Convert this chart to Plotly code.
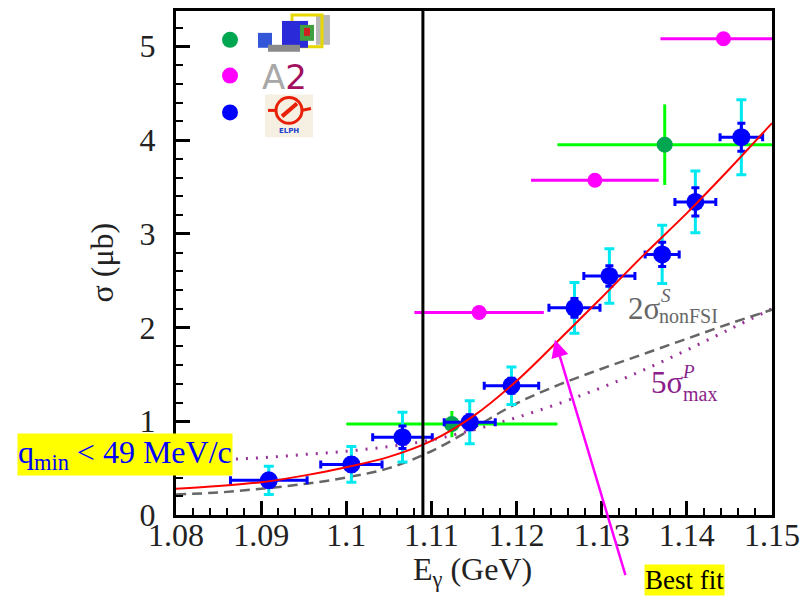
import plotly.graph_objects as go

# ---------------- data ----------------
# ELPH (blue) points
elph_E = [1.0909, 1.1006, 1.1066, 1.1145, 1.1194, 1.1268, 1.1309, 1.1371, 1.1410, 1.1464]
elph_sigma = [0.37, 0.54, 0.83, 0.99, 1.38, 2.21, 2.55, 2.78, 3.34, 4.03]
elph_dE = [0.0045, 0.0036, 0.0035, 0.0030, 0.0032, 0.0030, 0.0030, 0.0020, 0.0024, 0.0025]
elph_stat = [0.05, 0.07, 0.12, 0.08, 0.08, 0.10, 0.11, 0.13, 0.15, 0.15]
elph_tot = [0.15, 0.19, 0.265, 0.23, 0.20, 0.27, 0.29, 0.31, 0.33, 0.40]

# A2 (magenta) points
a2_E = [1.1156, 1.1292, 1.1443]
a2_sigma = [2.16, 3.57, 5.08]
a2_dE = [0.0076, 0.0075, 0.0074]

# CB (green) points
cb_E = [1.1124, 1.1374]
cb_sigma = [0.97, 3.95]
cb_dE = [0.0124, 0.0126]
cb_dsigma = [0.14, 0.43]

# curves
curve_E = [1.08, 1.085, 1.09, 1.095, 1.10, 1.105, 1.11, 1.115, 1.12, 1.125, 1.13, 1.135, 1.14, 1.145, 1.15]
fit_sigma = [0.28, 0.31, 0.35, 0.42, 0.51, 0.62, 0.79, 1.06, 1.43, 1.87, 2.32, 2.78, 3.22, 3.69, 4.18]
nonfsi_sigma = [0.22, 0.24, 0.28, 0.33, 0.40, 0.50, 0.68, 0.93, 1.19, 1.39, 1.56, 1.72, 1.88, 2.04, 2.19]
maxp_sigma = [0.57, 0.59, 0.61, 0.645, 0.68, 0.73, 0.80, 0.91, 1.04, 1.19, 1.36, 1.55, 1.76, 1.98, 2.20]

threshold_E = 1.109

x_ticks = [1.08, 1.09, 1.10, 1.11, 1.12, 1.13, 1.14, 1.15]
x_ticktext = ["1.08", "1.09", "1.1", "1.11", "1.12", "1.13", "1.14", "1.15"]
y_ticks = [0, 1, 2, 3, 4, 5]
y_ticktext = ["0", "1", "2", "3", "4", "5"]

# ---------------- layout geometry ----------------
W, H = 808, 596
L, R, T, B = 176, 772, 8, 515


def PX(px):
    return (px - L) / (R - L)


def PY(py):
    return (B - py) / (B - T)


SERIF = "Liberation Serif, Times New Roman, serif"

fig = go.Figure()

# curves
fig.add_trace(go.Scatter(x=curve_E, y=maxp_sigma, mode="lines", line_shape="spline",
                         line=dict(color="#993399", width=3, dash="2px,8px"), showlegend=False))
fig.add_trace(go.Scatter(x=curve_E, y=nonfsi_sigma, mode="lines", line_shape="spline",
                         line=dict(color="#666666", width=2.5, dash="10px,6px"), showlegend=False))

# green CB
fig.add_trace(go.Scatter(x=cb_E, y=cb_sigma, mode="markers",
                         marker=dict(color="#00a650", size=16),
                         error_x=dict(type="data", array=cb_dE, color="#00ff00", thickness=3, width=0),
                         error_y=dict(type="data", array=cb_dsigma, color="#00ff00", thickness=3, width=0),
                         showlegend=False))
# magenta A2
fig.add_trace(go.Scatter(x=a2_E, y=a2_sigma, mode="markers",
                         marker=dict(color="#ff00ff", size=15),
                         error_x=dict(type="data", array=a2_dE, color="#ff00ff", thickness=3, width=0),
                         showlegend=False))
# cyan total errors
fig.add_trace(go.Scatter(x=elph_E, y=elph_sigma, mode="markers",
                         marker=dict(color="rgba(0,0,0,0)", size=1),
                         error_y=dict(type="data", array=elph_tot, color="#00e8f0", thickness=3, width=5),
                         showlegend=False))
# blue ELPH
fig.add_trace(go.Scatter(x=elph_E, y=elph_sigma, mode="markers",
                         marker=dict(color="#0000ff", size=18),
                         error_x=dict(type="data", array=elph_dE, color="#0000ff", thickness=3, width=4),
                         error_y=dict(type="data", array=elph_stat, color="#0000ff", thickness=3, width=4),
                         showlegend=False))
# red best fit
fig.add_trace(go.Scatter(x=curve_E, y=fit_sigma, mode="lines", line_shape="spline",
                         line=dict(color="#ff0000", width=2), showlegend=False))

shapes = []
# threshold line
shapes.append(dict(type="line", xref="x", yref="paper", x0=threshold_E, x1=threshold_E, y0=0, y1=1,
                   line=dict(color="black", width=3)))

# legend markers
for py, col in [(37, "#00a650"), (73, "#ff00ff"), (110, "#0000ff")]:
    shapes.append(dict(type="circle", xref="paper", yref="paper", xsizemode="pixel", ysizemode="pixel",
                       xanchor=PX(230), yanchor=PY(py), x0=-8, x1=8, y0=-8, y1=8,
                       fillcolor=col, line=dict(width=0)))


def rect(x0, y0, x1, y1, fill, line=None, lw=0):
    return dict(type="rect", xref="paper", yref="paper", x0=PX(x0), x1=PX(x1), y0=PY(y1), y1=PY(y0),
                fillcolor=fill, line=dict(width=lw, color=line or fill), layer="above")


# detector logo (approximation)
shapes += [
    rect(316, 12, 330, 42, "#b8b8b8"),
    rect(292, 12, 322, 44, "rgba(0,0,0,0)", "#e6d800", 3),
    rect(282, 18, 308, 45, "#2a2ad8"),
    rect(300, 22, 314, 38, "#40a040"),
    rect(304, 25, 310, 33, "#d02020"),
    rect(258, 30, 272, 45, "#3355d8"),
    rect(268, 42, 300, 49, "#8a8a8a"),
]
# ELPH logo (approximation)
shapes += [
    rect(265, 92, 313, 135, "#f6f0e2"),
    dict(type="circle", xref="paper", yref="paper", x0=PX(276), x1=PX(302), y0=PY(121), y1=PY(95),
         line=dict(color="#e8200a", width=3), layer="above"),
    dict(type="line", xref="paper", yref="paper", x0=PX(268), x1=PX(277), y0=PY(108), y1=PY(108),
         line=dict(color="#e8200a", width=3), layer="above"),
    dict(type="line", xref="paper", yref="paper", x0=PX(301), x1=PX(311), y0=PY(108), y1=PY(106),
         line=dict(color="#e8200a", width=3), layer="above"),
    dict(type="line", xref="paper", yref="paper", x0=PX(282), x1=PX(297), y0=PY(114), y1=PY(101),
         line=dict(color="#e8200a", width=4), layer="above"),
]

annotations = []
# titles
annotations.append(dict(text="E<sub>γ</sub> (GeV)", xref="paper", yref="paper", x=PX(472), y=PY(572),
                        xanchor="center", yanchor="middle", showarrow=False,
                        font=dict(family=SERIF, size=32, color="#222")))
annotations.append(dict(text="σ (μb)", xref="paper", yref="paper", x=PX(102), y=PY(261),
                        xanchor="center", yanchor="middle", showarrow=False, textangle=-90,
                        font=dict(family=SERIF, size=32, color="#222")))
# A2 logo text
annotations.append(dict(text="<span style='color:#a8a8a8'>A</span><span style='color:#a3105e'>2</span>",
                        xref="paper", yref="paper", x=PX(284), y=PY(74), xanchor="center", yanchor="middle",
                        showarrow=False, font=dict(family="DejaVu Sans", size=34)))
annotations.append(dict(text="<b>ELPH</b>", xref="paper", yref="paper", x=PX(289), y=PY(129),
                        xanchor="center", yanchor="middle", showarrow=False,
                        font=dict(family="DejaVu Sans", size=7, color="#2040d0")))
# curve labels
annotations += [
    dict(text="2σ", xref="paper", yref="paper", x=PX(626), y=PY(307), xanchor="left", yanchor="middle",
         showarrow=False, font=dict(family=SERIF, size=31, color="#666666")),
    dict(text="<i>S</i>", xref="paper", yref="paper", x=PX(659), y=PY(294), xanchor="left", yanchor="middle",
         showarrow=False, font=dict(family=SERIF, size=19, color="#666666")),
    dict(text="nonFSI", xref="paper", yref="paper", x=PX(657), y=PY(315), xanchor="left", yanchor="middle",
         showarrow=False, font=dict(family=SERIF, size=20, color="#666666")),
    dict(text="5σ", xref="paper", yref="paper", x=PX(649), y=PY(382), xanchor="left", yanchor="middle",
         showarrow=False, font=dict(family=SERIF, size=31, color="#8b1e8b")),
    dict(text="<i>P</i>", xref="paper", yref="paper", x=PX(680), y=PY(371), xanchor="left", yanchor="middle",
         showarrow=False, font=dict(family=SERIF, size=19, color="#8b1e8b")),
    dict(text="max", xref="paper", yref="paper", x=PX(681), y=PY(393), xanchor="left", yanchor="middle",
         showarrow=False, font=dict(family=SERIF, size=20, color="#8b1e8b")),
]
# q_min box
annotations.append(dict(text="q<sub>min</sub> &lt; 49 MeV/c", xref="paper", yref="paper",
                        x=PX(125), y=PY(454), xanchor="center", yanchor="middle", showarrow=False,
                        bgcolor="#ffff00", borderpad=0,
                        font=dict(family=SERIF, size=32, color="#0000ff")))
# best fit arrow + label
annotations.append(dict(text="", x=1.1245, y=1.87, xref="x", yref="y", showarrow=True,
                        ax=71, ay=237, axref="pixel", ayref="pixel",
                        arrowcolor="#ff00ff", arrowwidth=2.5, arrowhead=2, arrowsize=1.4))
annotations.append(dict(text="Best fit", xref="paper", yref="paper", x=PX(684), y=PY(580),
                        xanchor="center", yanchor="middle", showarrow=False, bgcolor="#ffff00", borderpad=0,
                        font=dict(family=SERIF, size=27, color="black")))

fig.update_layout(
    width=W, height=H,
    margin=dict(l=L, r=W - R, t=T, b=H - B),
    paper_bgcolor="white", plot_bgcolor="white",
    shapes=shapes, annotations=annotations,
    showlegend=False,
)
fig.update_xaxes(range=[1.08, 1.15], tickvals=x_ticks, ticktext=x_ticktext, ticks="inside", ticklen=14,
                 tickwidth=2.5, tickcolor="black", showgrid=False, zeroline=False,
                 showline=True, linewidth=3, linecolor="black", mirror=True,
                 minor=dict(ticks="inside", ticklen=7, tickwidth=2, tickcolor="black", dtick=0.002,
                            tick0=1.08, showgrid=False),
                 ticklabelstandoff=-10,
                 tickfont=dict(family=SERIF, size=32, color="#222"))
fig.update_yaxes(range=[0, 5.376], tickvals=y_ticks, ticktext=y_ticktext, ticks="inside", ticklen=14,
                 tickwidth=2.5, tickcolor="black", showgrid=False, zeroline=False,
                 showline=True, linewidth=3, linecolor="black", mirror=True,
                 minor=dict(ticks="inside", ticklen=7, tickwidth=2, tickcolor="black", dtick=0.2,
                            tick0=0, showgrid=False),
                 ticklabelstandoff=11,
                 tickfont=dict(family=SERIF, size=32, color="#222"))

fig.write_html("out.html")
